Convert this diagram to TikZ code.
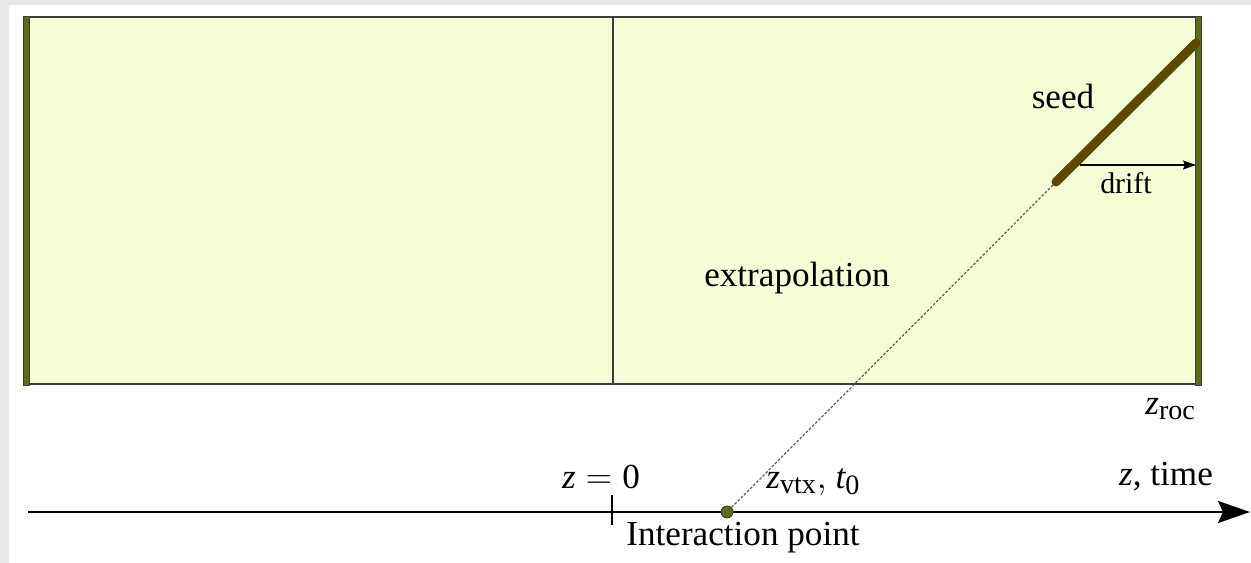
\documentclass[tikz,border=0pt]{standalone}
\usepackage{fontspec}
\setmainfont{Liberation Serif}
\DeclareMathSizes{20}{20}{16}{12}
\usetikzlibrary{arrows.meta,positioning,calc}
\definecolor{clrFill}{RGB}{245,253,215}
\definecolor{clrBar}{RGB}{92,108,22}
\definecolor{clrSeed}{RGB}{92,72,0}
\definecolor{clrTrack}{RGB}{100,92,70}
\definecolor{clrEdge}{RGB}{60,60,60}
\definecolor{clrPage}{RGB}{232,232,232}
\tikzset{
  txt/.style={inner sep=0pt,font=\fontsize{20}{24}\selectfont},
  smalltxt/.style={inner sep=0pt,font=\fontsize{17}{20}\selectfont},
  region/.style={draw=clrEdge,line width=0.8pt,fill=clrFill},
  seedline/.style={line width=0.18cm,draw=clrSeed,line cap=round},
  track/.style={dash pattern=on 1.5pt off 1pt,draw=clrTrack,line width=0.7pt},
  axis/.style={-{Stealth[length=0.64cm,width=0.44cm,inset=0.1cm]},line width=0.8pt},
  driftarrow/.style={-{Stealth[length=0.26cm,width=0.18cm,inset=0.04cm]},line width=0.8pt},
  vertex/.style={circle,inner sep=0pt,minimum size=0.24cm,draw=clrEdge,
    line width=0.5pt,fill=clrBar}
}
\begin{document}
\begin{tikzpicture}[x=1cm,y=1cm]
  % page
  \fill[clrPage] (0,0) rectangle (25.02,11.26);
  \fill[white] (0.18,0) rectangle (25.02,11.16);
  \useasboundingbox (0,0) rectangle (25.02,11.26);

  % detector region
  \draw[region] (0.52,3.58) rectangle (23.96,10.92);
  \draw[clrEdge,line width=0.8pt] (12.26,3.58) -- (12.26,10.92);
  \fill[clrBar,draw=clrEdge,line width=0.4pt] (0.46,3.56) rectangle (0.58,10.94);
  \fill[clrBar,draw=clrEdge,line width=0.4pt] (23.90,3.56) rectangle (24.02,10.94);

  % time axis
  \coordinate (axis-start) at (0.56,1.02);
  \coordinate (axis-end) at (25.0,1.02);
  \draw[axis] (axis-start) -- (axis-end);
  \coordinate (tick-top) at (12.24,1.36);
  \coordinate (tick-bot) at (12.24,0.76);
  \draw[line width=0.6pt] (tick-top) -- (tick-bot);

  % seed and extrapolation
  \node[vertex] (vtx) at (14.54,1.02) {};
  \coordinate (seed-start) at (21.12,7.62);
  \coordinate (seed-end) at (23.92,10.40);
  \draw[track] (vtx) -- (seed-start);
  \draw[seedline] (seed-start) -- (seed-end);
  \coordinate (drift-start) at (21.60,7.96);
  \coordinate (drift-end) at (23.92,7.96);
  \draw[driftarrow] (drift-start) -- (drift-end);

  % labels
  \node[txt] (seed) at (21.26,9.34) {seed};
  \node[smalltxt] (drift) at (22.52,7.60) {drift};
  \node[txt] (extrap) at (15.94,5.70) {extrapolation};
  \node[txt,anchor=west] (zroc) at (22.90,3.08) {$\mathit{z}_{\mathrm{roc}}$};
  \node[txt] (ztime) at (23.32,1.72) {$\mathit{z}$, time};
  \node[txt] (zzero) at (12.02,1.72) {$\mathit{z}=\mathrm{0}$};
  \node[txt,anchor=west] (zvtx) at (15.32,1.62) {$\mathit{z}_{\mathrm{vtx}}\mathrm{,}\ \mathit{t}_{\mathrm{0}}$};
  \node[txt] (ip) at (14.86,0.50) {Interaction point};
\end{tikzpicture}
\end{document}
